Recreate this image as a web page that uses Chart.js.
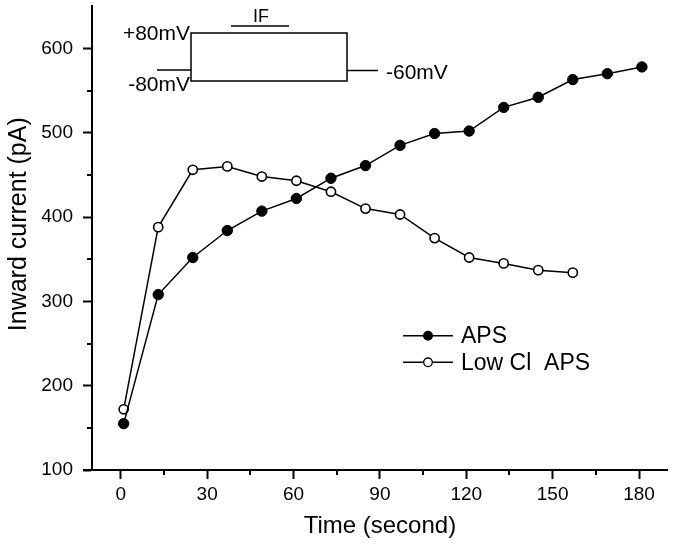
<!DOCTYPE html>
<html><head><meta charset="utf-8">
<script src="https://cdn.jsdelivr.net/npm/chart.js@4.4.1/dist/chart.umd.min.js"></script>
<style>html,body{margin:0;padding:0;background:#fff;overflow:hidden;}#wrap{width:674px;height:546px;}</style>
</head><body><div id="wrap"><canvas id="c" width="674" height="546"></canvas></div>
<script>
// ---- data ----
const times = [1, 13, 25, 37, 49, 61, 73, 85, 97, 109, 121, 133, 145, 157, 169, 181];
const apsValues = [155, 308, 352, 384, 407, 422, 446, 461, 485, 499, 502, 530, 542, 563, 570, 578];
const lowClTimes = [1, 13, 25, 37, 49, 61, 73, 85, 97, 109, 121, 133, 145, 157];
const lowClValues = [172, 388, 456, 460, 448, 443, 430, 410, 403, 375, 352, 345, 337, 334];
const seriesNames = ['APS', 'Low Cl  APS'];
const xTicks = [0, 30, 60, 90, 120, 150, 180];
const xMinorTicks = [15, 45, 75, 105, 135, 165];
const yTicks = [100, 200, 300, 400, 500, 600];
const yMinorTicks = [150, 250, 350, 450, 550];
const insetLabels = ['+80mV', '-80mV', '-60mV', 'IF'];

const FONT = '"Liberation Sans", Arial, Helvetica, sans-serif';

const extras = {
  id: 'extras',
  afterDraw(chart) {
    const ctx = chart.ctx, xs = chart.scales.x, ys = chart.scales.y, ca = chart.chartArea;
    ctx.save();
    ctx.strokeStyle = '#000';
    ctx.lineWidth = 2;
    ctx.beginPath();
    xMinorTicks.forEach(v => { const p = Math.round(xs.getPixelForValue(v)); ctx.moveTo(p, ca.bottom); ctx.lineTo(p, ca.bottom + 5); });
    yMinorTicks.forEach(v => { const p = Math.round(ys.getPixelForValue(v)); ctx.moveTo(ca.left, p); ctx.lineTo(ca.left - 5, p); });
    ctx.moveTo(ca.left - 9, Math.round(ca.bottom)); ctx.lineTo(ca.left, Math.round(ca.bottom));
    ctx.stroke();

    // inset protocol diagram
    ctx.lineWidth = 1.5;
    ctx.beginPath();
    ctx.moveTo(157, 70); ctx.lineTo(191, 70);
    ctx.moveTo(191, 33); ctx.lineTo(347, 33); ctx.lineTo(347, 81); ctx.lineTo(191, 81); ctx.closePath();
    ctx.moveTo(347, 70.5); ctx.lineTo(378, 70.5);
    ctx.moveTo(231, 26); ctx.lineTo(289, 26);
    ctx.stroke();
    ctx.fillStyle = '#000';
    ctx.textBaseline = 'middle';
    ctx.font = '21px ' + FONT;
    ctx.textAlign = 'right';
    ctx.fillText(insetLabels[0], 190, 34);
    ctx.fillText(insetLabels[1], 190, 85);
    ctx.textAlign = 'left';
    ctx.fillText(insetLabels[2], 386, 73.5);
    ctx.textAlign = 'center';
    ctx.font = '18px ' + FONT;
    ctx.fillText(insetLabels[3], 261, 17);

    // legend
    const rows = [335.7, 362.3];
    chart.data.datasets.forEach((ds, i) => {
      const y = rows[i];
      ctx.lineWidth = 1.5;
      ctx.strokeStyle = '#000';
      ctx.beginPath(); ctx.moveTo(403, y); ctx.lineTo(453, y); ctx.stroke();
      ctx.beginPath(); ctx.arc(428, y, 4.3, 0, Math.PI * 2);
      ctx.fillStyle = ds.pointBackgroundColor; ctx.fill();
      ctx.lineWidth = 1.3; ctx.stroke();
      ctx.fillStyle = '#000';
      ctx.font = '23px ' + FONT;
      ctx.textAlign = 'left';
      ctx.textBaseline = 'middle';
      ctx.fillText(ds.label, 461, y + 1);
    });
    ctx.restore();
  }
};

new Chart(document.getElementById('c'), {
  type: 'scatter',
  data: {
    datasets: [
      {
        label: seriesNames[0],
        data: times.map((t, i) => ({x: t, y: apsValues[i]})),
        showLine: true, borderColor: '#000', borderWidth: 1.5,
        pointRadius: 5.2, pointBackgroundColor: '#000', pointBorderColor: '#000', pointBorderWidth: 1
      },
      {
        label: seriesNames[1],
        data: lowClTimes.map((t, i) => ({x: t, y: lowClValues[i]})),
        showLine: true, borderColor: '#000', borderWidth: 1.5,
        pointRadius: 4.6, pointBackgroundColor: '#fff', pointBorderColor: '#000', pointBorderWidth: 1.6
      }
    ]
  },
  options: {
    responsive: false, animation: false, devicePixelRatio: 1,
    layout: {padding: {top: 5, right: 6, left: 0, bottom: 0}},
    plugins: {legend: {display: false}, tooltip: {enabled: false}},
    scales: {
      x: {
        type: 'linear', min: -10, max: 190,
        afterBuildTicks: s => { s.ticks = xTicks.map(v => ({value: v})); },
        afterFit: s => { s.height = 76; s.paddingLeft = 0; s.paddingRight = 0; s.paddingTop = 0; s.paddingBottom = 0; },
        grid: {drawOnChartArea: false, drawTicks: true, tickLength: 9, tickColor: '#000', tickWidth: 2},
        border: {display: true, color: '#000', width: 2},
        ticks: {color: '#000', font: {family: FONT, size: 19}, padding: 4, maxRotation: 0},
        title: {display: true, text: 'Time (second)', color: '#000', font: {family: FONT, size: 24}, padding: {top: 0, bottom: 5}}
      },
      y: {
        type: 'linear', min: 100, max: 650,
        afterBuildTicks: s => { s.ticks = yTicks.map(v => ({value: v})); },
        afterFit: s => { s.width = 92; s.paddingTop = 0; s.paddingBottom = 0; s.paddingLeft = 0; s.paddingRight = 0; },
        grid: {drawOnChartArea: false, drawTicks: true, tickLength: 9, tickColor: '#000', tickWidth: 2},
        border: {display: true, color: '#000', width: 2},
        ticks: {color: '#000', font: {family: FONT, size: 19}, padding: 10},
        title: {display: true, text: '    Inward current (pA)', color: '#000', font: {family: FONT, size: 25}, padding: {top: 4, bottom: 0}}
      }
    }
  },
  plugins: [extras]
});
</script>
</body></html>
